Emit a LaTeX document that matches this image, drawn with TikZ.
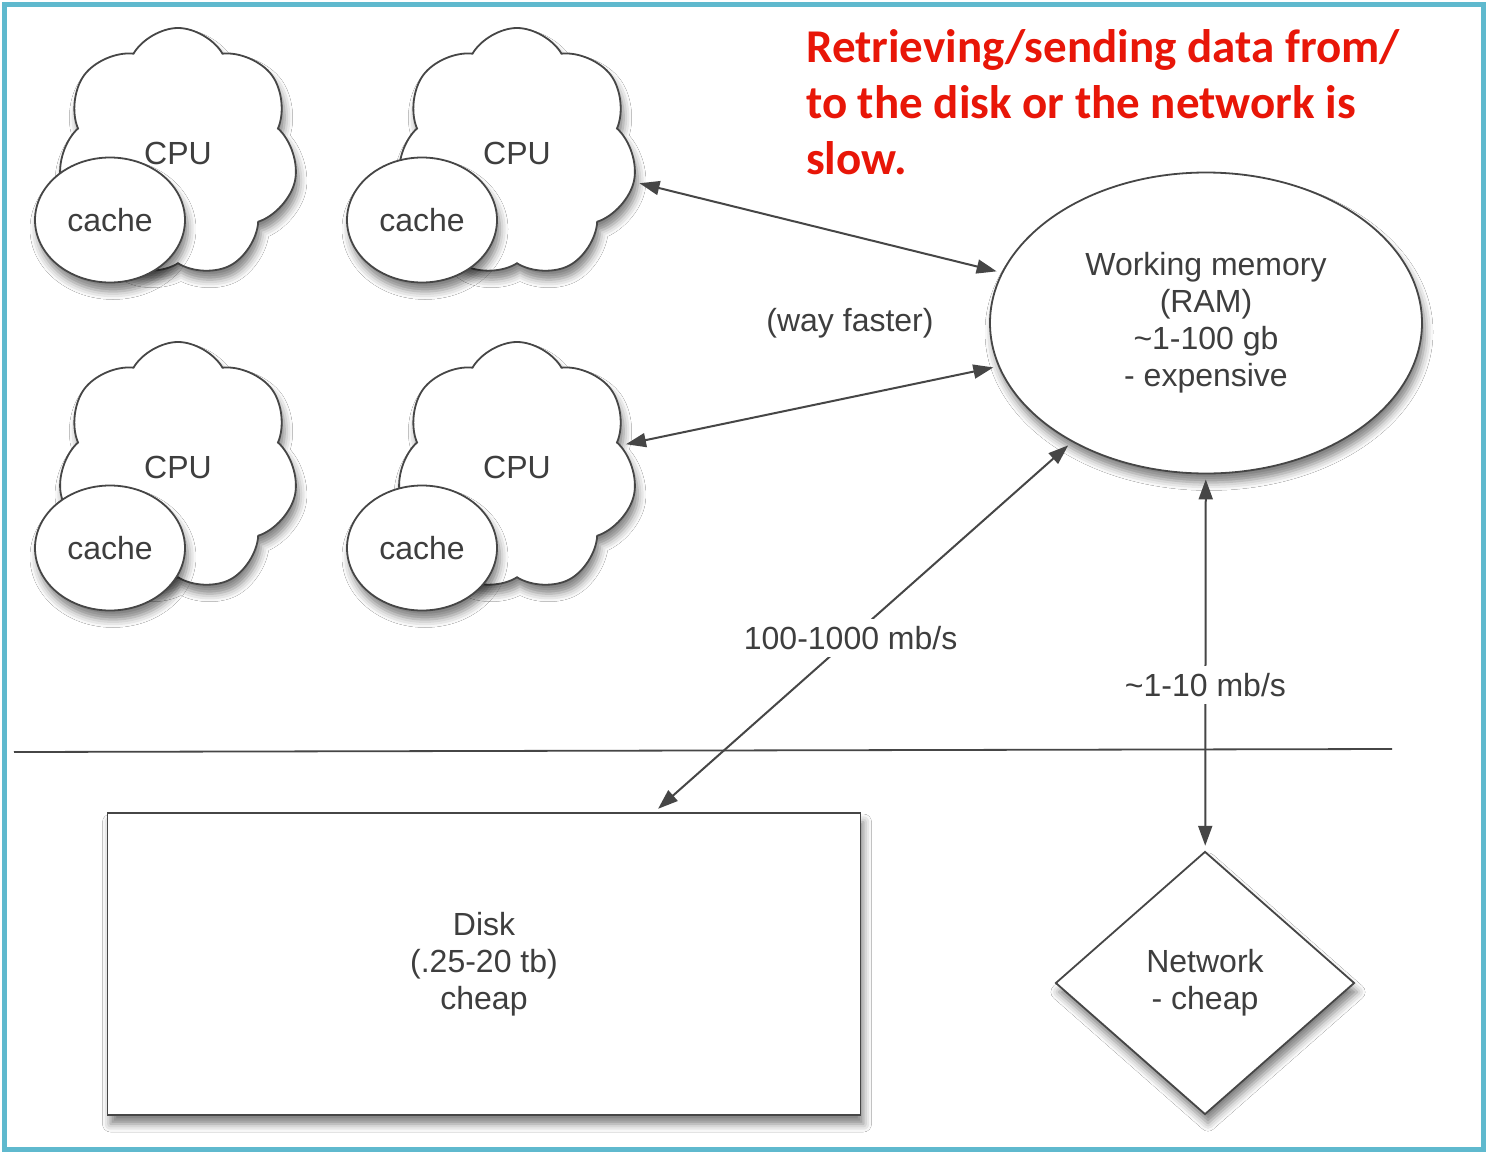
\documentclass[tikz,border=0pt]{standalone}
\usepackage{fontspec}
\setmainfont{Liberation Sans}
\newfontfamily\notefont{Carlito}
\usepackage{tikz}
\usetikzlibrary{shapes,shapes.symbols,shapes.geometric,arrows.meta,positioning,shadows,shadows.blur}

\definecolor{frameblue}{RGB}{95,185,206}
\definecolor{inkgray}{RGB}{70,70,70}
\definecolor{txtgray}{RGB}{62,62,62}
\definecolor{notered}{RGB}{232,22,8}

\begin{document}
\begin{tikzpicture}[x=1pt,y=-1pt,
  font=\fontsize{32}{37}\selectfont,
  box/.style={draw=inkgray, fill=white, line width=1.8pt, text=txtgray, align=center, inner sep=0pt,
    blur shadow={shadow xshift=3pt, shadow yshift=-9pt, shadow blur radius=8pt, shadow opacity=50}},
  cpu/.style={box, cloud, cloud puffs=7, cloud puff arc=120, minimum width=240, minimum height=250},
  cachebox/.style={box, ellipse, minimum width=150, minimum height=125},
  link/.style={draw=inkgray, line width=2pt, >={Triangle[length=20pt,width=14pt]}, <->, shorten <=5pt, shorten >=5pt},
  rate/.style={fill=white, text=txtgray, inner sep=7pt},
  note/.style={text=notered, align=left, inner sep=0pt, font=\notefont\bfseries\fontsize{47}{56}\selectfont}]
\useasboundingbox (0,0) rectangle (1488,1154);
\fill[white] (0,0) rectangle (1488,1154);
\draw[frameblue, line width=5pt] (4.5,4.5) rectangle (1483.5,1149.5);

% nodes
\node[cpu] (cpu1) at (178,153) {CPU};
\node[cachebox] (cache1) at (110,220) {cache};
\node[cpu] (cpu2) at (517,153) {CPU};
\node[cachebox] (cache2) at (422,220) {cache};
\node[cpu] (cpu3) at (178,467) {CPU};
\node[cachebox] (cache3) at (110,548) {cache};
\node[cpu] (cpu4) at (517,467) {CPU};
\node[cachebox] (cache4) at (422,548) {cache};

\node[box, ellipse, minimum width=432, minimum height=301] (ram) at (1206,323) {Working memory\\ (RAM)\\ \textasciitilde1-100 gb\\ - expensive};
\node[box, rectangle, minimum width=753, minimum height=302] (disk) at (484,964) {Disk\\ (.25-20 tb)\\ cheap};
\node[box, diamond, minimum width=299, minimum height=263] (net) at (1205,983) {Network\\ - cheap};

\node[text=txtgray] (faster) at (850,323) {(way faster)};
\node[note, anchor=north west] (msg) at (806,29) {Retrieving/sending data from/\\ to the disk or the network is\\ slow.};

% divider
\draw[inkgray, line width=1.8pt] (14,752) -- (1392,749);

% links
\draw[link] (cpu2) -- (ram);
\draw[link] (cpu4) -- (ram);
\draw[link] (disk) -- node[rate, pos=0.47] {100-1000 mb/s} (ram);
\draw[link] (ram) -- node[rate, pos=0.56] {\textasciitilde1-10 mb/s} (net);

\end{tikzpicture}
\end{document}
